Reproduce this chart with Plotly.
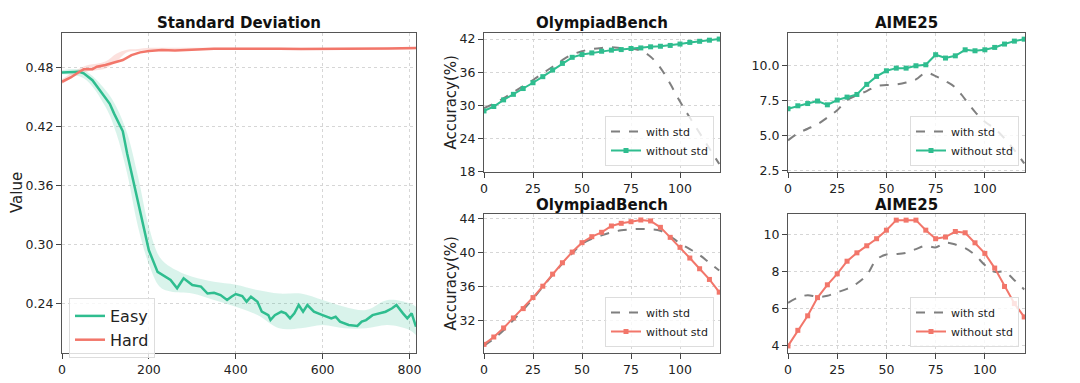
import plotly.graph_objects as go

# ---------------- data ----------------
# Left panel: Standard Deviation
std_x_easy = [0, 20, 40, 50, 70, 90, 110, 120, 140, 150, 170, 180, 190, 200, 220, 240, 250, 265, 280,
              300, 320, 335, 350, 365, 380, 390, 400, 415, 425, 435, 450, 460, 475, 480, 490, 505,
              515, 525, 535, 545, 555, 565, 580, 600, 620, 630, 640, 660, 680, 690, 700, 715, 730,
              745, 760, 770, 785, 795, 805, 815]
easy_vals = [0.4749, 0.4752, 0.4756, 0.474, 0.467, 0.455, 0.443, 0.433, 0.415, 0.3925, 0.352, 0.3315,
             0.3146, 0.294, 0.272, 0.267, 0.2637, 0.2553, 0.2654, 0.2586, 0.257, 0.250, 0.2508, 0.2485,
             0.2434, 0.2468, 0.2495, 0.2474, 0.2417, 0.2468, 0.2417, 0.2315, 0.2281, 0.223, 0.228,
             0.2315, 0.2298, 0.2247, 0.2298, 0.2383, 0.2315, 0.2383, 0.2315, 0.2281, 0.2247, 0.2264,
             0.2214, 0.218, 0.217, 0.2214, 0.223, 0.228, 0.2298, 0.2315, 0.235, 0.2383, 0.2298,
             0.2247, 0.2298, 0.2163]
band_x = [0, 50, 100, 125, 150, 175, 200, 225, 250, 300, 350, 400, 450, 500, 550, 600, 650, 700,
          750, 800, 815]
easy_lo = [0.473, 0.469, 0.440, 0.413, 0.372, 0.318, 0.280, 0.257, 0.252, 0.250, 0.2434, 0.2366,
           0.2281, 0.2146, 0.2146, 0.218, 0.2146, 0.2146, 0.218, 0.213, 0.2078]
easy_hi = [0.477, 0.477, 0.457, 0.440, 0.413, 0.369, 0.318, 0.287, 0.277, 0.267, 0.262, 0.259,
           0.2536, 0.250, 0.250, 0.2434, 0.2366, 0.2332, 0.2434, 0.240, 0.2366]

std_x_hard = [0, 20, 40, 50, 70, 80, 100, 120, 140, 160, 180, 200, 230, 260, 300, 350, 400, 450,
              500, 550, 600, 650, 700, 750, 815]
hard_vals = [0.4654, 0.4698, 0.4756, 0.478, 0.478, 0.4807, 0.4824, 0.4847, 0.4875, 0.4925, 0.4953,
             0.4966, 0.4976, 0.4973, 0.4983, 0.499, 0.499, 0.4993, 0.499, 0.4987, 0.4987, 0.499,
             0.4993, 0.4993, 0.4997]
hard_lo = [0.463, 0.475, 0.479, 0.486, 0.4955, 0.4965, 0.498, 0.498, 0.498, 0.498, 0.498, 0.498,
           0.498, 0.498, 0.498, 0.498, 0.498, 0.498, 0.498, 0.498, 0.4985]
hard_hi = [0.468, 0.481, 0.486, 0.494, 0.498, 0.4987, 0.5, 0.5, 0.5, 0.5, 0.5, 0.5, 0.5, 0.5, 0.5,
           0.5, 0.5, 0.5, 0.5, 0.5, 0.501]

# Right panels: steps
steps = [0, 5, 10, 15, 20, 25, 30, 35, 40, 45, 50, 55, 60, 65, 70, 75, 80, 85, 90, 95, 100, 105,
         110, 115, 120]

# Easy data (top row)
ob_easy_with = [29.5, 30.3, 31.3, 32.4, 33.5, 34.6, 35.8, 37.0, 38.2, 39.2, 39.8, 40.2, 40.4, 40.5,
                40.4, 40.3, 39.9, 38.8, 36.8, 33.9, 30.7, 27.8, 25.0, 22.2, 19.4]
ob_easy_without = [29.0, 29.8, 31.0, 32.0, 33.05, 34.1, 35.2, 36.4, 37.6, 38.7, 39.2, 39.5, 39.8,
                   40.0, 40.1, 40.3, 40.4, 40.6, 40.7, 40.85, 41.1, 41.4, 41.6, 41.8, 42.0]
aime_easy_with = [4.67, 5.17, 5.5, 5.83, 6.3, 6.83, 7.55, 7.9, 8.19, 8.55, 8.62, 8.67, 8.8, 9.02,
                  9.5, 9.26, 8.9, 8.45, 7.6, 6.71, 6.0, 5.52, 4.81, 3.98, 3.02]
aime_easy_without = [6.93, 7.14, 7.3, 7.48, 7.21, 7.55, 7.76, 7.95, 8.67, 9.24, 9.64, 9.83, 9.83,
                     10.0, 10.07, 10.79, 10.55, 10.71, 11.14, 11.07, 11.14, 11.31, 11.55, 11.76, 11.9]

# Hard data (bottom row)
ob_hard_with = [29.1, 29.9, 30.9, 32.1, 33.3, 34.6, 36.0, 37.4, 38.7, 39.9, 41.0, 41.6, 42.0, 42.35,
                42.6, 42.7, 42.75, 42.7, 42.55, 41.9, 41.07, 40.4, 39.7, 38.8, 37.9]
ob_hard_without = [29.26, 30.12, 31.18, 32.35, 33.44, 34.73, 36.06, 37.47, 38.8, 40.05, 41.15,
                   41.85, 42.36, 43.1, 43.41, 43.6, 43.8, 43.69, 42.94, 41.77, 40.6, 39.35, 38.1,
                   36.85, 35.36]
aime_hard_with = [6.32, 6.6, 6.73, 6.64, 6.7, 6.89, 7.07, 7.36, 7.81, 8.65, 8.92, 8.94, 9.01, 9.21,
                  9.39, 9.3, 9.55, 9.46, 9.26, 8.9, 8.35, 7.99, 7.99, 7.54, 7.04]
aime_hard_without = [4.0, 4.84, 5.62, 6.6, 7.29, 7.88, 8.56, 9.01, 9.39, 9.77, 10.23, 10.77, 10.77,
                     10.77, 10.23, 9.77, 9.86, 10.16, 10.09, 9.55, 8.98, 8.19, 7.2, 6.28, 5.56]

# ---------------- styling ----------------
GREEN = "#2fbd8f"
RED = "#f2766a"
GREEN_FILL = "rgba(47,189,143,0.18)"
RED_FILL = "rgba(242,118,106,0.22)"
GRAY = "#7f7f7f"
FONT = "DejaVu Sans"
W, H = 1080, 383

def px_x(a, b):
    return [a / W, b / W]

def px_y(top, bot):
    return [1 - bot / H, 1 - top / H]

fig = go.Figure()

# Left panel bands & lines
fig.add_trace(go.Scatter(x=band_x, y=easy_hi, mode="lines", line=dict(width=0, shape="spline"),
                         showlegend=False, hoverinfo="skip", xaxis="x", yaxis="y"))
fig.add_trace(go.Scatter(x=band_x, y=easy_lo, mode="lines", line=dict(width=0, shape="spline"),
                         fill="tonexty", fillcolor=GREEN_FILL, showlegend=False, hoverinfo="skip",
                         xaxis="x", yaxis="y"))
fig.add_trace(go.Scatter(x=band_x, y=hard_hi, mode="lines", line=dict(width=0, shape="spline"),
                         showlegend=False, hoverinfo="skip", xaxis="x", yaxis="y"))
fig.add_trace(go.Scatter(x=band_x, y=hard_lo, mode="lines", line=dict(width=0, shape="spline"),
                         fill="tonexty", fillcolor=RED_FILL, showlegend=False, hoverinfo="skip",
                         xaxis="x", yaxis="y"))
fig.add_trace(go.Scatter(x=std_x_easy, y=easy_vals, mode="lines", name="Easy",
                         line=dict(color=GREEN, width=2.5), xaxis="x", yaxis="y", legend="legend"))
fig.add_trace(go.Scatter(x=std_x_hard, y=hard_vals, mode="lines", name="Hard",
                         line=dict(color=RED, width=2.5), xaxis="x", yaxis="y", legend="legend"))

panels = [
    ("x2", "y2", ob_easy_with, ob_easy_without, GREEN, "legend2"),
    ("x3", "y3", aime_easy_with, aime_easy_without, GREEN, "legend3"),
    ("x4", "y4", ob_hard_with, ob_hard_without, RED, "legend4"),
    ("x5", "y5", aime_hard_with, aime_hard_without, RED, "legend5"),
]
for xa, ya, w, wo, col, lg in panels:
    fig.add_trace(go.Scatter(x=steps, y=w, mode="lines", name="with std",
                             line=dict(color=GRAY, width=2, dash="dash", shape="spline"),
                             xaxis=xa, yaxis=ya, legend=lg))
    fig.add_trace(go.Scatter(x=steps, y=wo, mode="lines+markers", name="without std",
                             line=dict(color=col, width=2),
                             marker=dict(symbol="square", size=5, color=col),
                             xaxis=xa, yaxis=ya, legend=lg))

tickfont = dict(family=FONT, size=12.5, color="#222")
def axis(domain, rng, tickvals, fmt=None, anchor=None):
    d = dict(domain=domain, range=rng, tickvals=tickvals, showline=True, mirror=True,
             linecolor="#555", linewidth=1.2, ticks="outside", ticklen=5, tickcolor="#444",
             showgrid=True, gridcolor="#d6d6d6", griddash="dot", gridwidth=1, zeroline=False,
             tickfont=tickfont, anchor=anchor, automargin=False)
    if fmt:
        d["tickformat"] = fmt
    return d

xL = px_x(62, 416); xO = px_x(484, 720); xA = px_x(788, 1025)
yL = px_y(33, 353); yT = px_y(33, 172); yB = px_y(214, 353)

legend_common = dict(bgcolor="rgba(255,255,255,0.8)", bordercolor="#dddddd", borderwidth=1,
                     font=dict(family=FONT, size=11, color="#222"), tracegroupgap=0,
                     traceorder="normal")

fig.update_layout(
    width=W, height=H, margin=dict(l=0, r=0, t=0, b=0),
    plot_bgcolor="white", paper_bgcolor="white",
    font=dict(family=FONT, color="#222"),
    xaxis=axis(xL, [0, 815], [0, 200, 400, 600, 800], anchor="y"),
    yaxis=axis(yL, [0.1895, 0.515], [0.24, 0.30, 0.36, 0.42, 0.48], ".2f", anchor="x"),
    xaxis2=axis(xO, [0, 120.4], [0, 25, 50, 75, 100], anchor="y2"),
    yaxis2=axis(yT, [17.95, 43.1], [18, 24, 30, 36, 42], anchor="x2"),
    xaxis3=axis(xA, [0, 120.4], [0, 25, 50, 75, 100], anchor="y3"),
    yaxis3=axis(yT, [2.41, 12.34], [2.5, 5.0, 7.5, 10.0], ".1f", anchor="x3"),
    xaxis4=axis(xO, [0, 120.4], [0, 25, 50, 75, 100], anchor="y4"),
    yaxis4=axis(yB, [28.25, 44.5], [32, 36, 40, 44], anchor="x4"),
    xaxis5=axis(xA, [0, 120.4], [0, 25, 50, 75, 100], anchor="y5"),
    yaxis5=axis(yB, [3.62, 11.1], [4, 6, 8, 10], anchor="x5"),
    legend=dict(legend_common, x=69 / W, y=1 - 298 / H, xanchor="left", yanchor="top",
                font=dict(family=FONT, size=16, color="#222")),
    legend2=dict(legend_common, x=714 / W, y=1 - 166 / H, xanchor="right", yanchor="bottom"),
    legend3=dict(legend_common, x=1019 / W, y=1 - 166 / H, xanchor="right", yanchor="bottom"),
    legend4=dict(legend_common, x=714 / W, y=1 - 347 / H, xanchor="right", yanchor="bottom"),
    legend5=dict(legend_common, x=1019 / W, y=1 - 347 / H, xanchor="right", yanchor="bottom"),
)

# Axis titles (placed as rotated annotations)
ytitles = [("Value", 17, (33 + 353) / 2, 15),
           ("Accuracy(%)", 450, (33 + 172) / 2, 15),
           ("Accuracy(%)", 450, (214 + 353) / 2, 15)]
for t, cx, cy, fs in ytitles:
    fig.add_annotation(text=t, x=cx / W, y=1 - cy / H, xref="paper", yref="paper",
                       showarrow=False, xanchor="center", yanchor="middle", textangle=-90,
                       font=dict(family=FONT, size=fs, color="#222"))

# Panel titles
titles = [("Standard Deviation", (62 + 416) / 2, 23),
          ("OlympiadBench", (484 + 720) / 2, 23),
          ("AIME25", (788 + 1025) / 2, 23),
          ("OlympiadBench", (484 + 720) / 2, 205),
          ("AIME25", (788 + 1025) / 2, 205)]
for t, cx, cy in titles:
    fig.add_annotation(text="<b>%s</b>" % t, x=cx / W, y=1 - cy / H, xref="paper", yref="paper",
                       showarrow=False, xanchor="center", yanchor="middle",
                       font=dict(family=FONT, size=15, color="#111"))

fig.write_html("out.html", config={"displayModeBar": False},
               post_script="document.body.style.margin='0px';document.body.style.overflow='hidden';")
